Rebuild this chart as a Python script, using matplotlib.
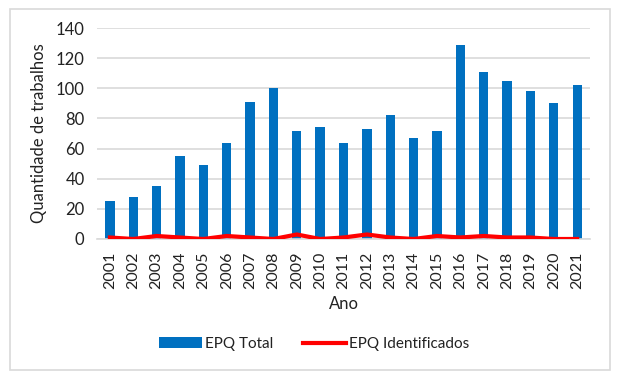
import matplotlib
matplotlib.use("Agg")
import matplotlib.pyplot as plt
from matplotlib.patches import Rectangle

plt.rcParams['font.family'] = ['Lato', 'DejaVu Sans']

anos = ['2001', '2002', '2003', '2004', '2005', '2006', '2007', '2008', '2009', '2010', '2011',
        '2012', '2013', '2014', '2015', '2016', '2017', '2018', '2019', '2020', '2021']
epq_total = [25, 28, 35, 55, 49, 64, 91, 100, 72, 74, 64,
             73, 82, 67, 72, 129, 111, 105, 98, 90, 102]
epq_ident = [1, 0, 2, 1, 0, 2, 1, 0, 3, 0, 1,
             3, 1, 0, 2, 1, 2, 1, 1, 0, 0]
y_ticks = [0, 20, 40, 60, 80, 100, 120, 140]

fig = plt.figure(figsize=(6.22, 3.79), dpi=100)
ax = fig.add_axes([0.156, 0.3694, 0.7926, 0.5566])

# moldura externa do grafico
fig.patches.append(Rectangle((10 / 622, 9 / 379), 600 / 622, 361 / 379,
                             transform=fig.transFigure, fill=False,
                             edgecolor='#d9d9d9', linewidth=1.2))

x = list(range(len(anos)))
barras = ax.bar(x, epq_total, width=0.4, color='#0070C0', label='EPQ Total', zorder=2)
linha, = ax.plot(x, epq_ident, color='#FF0000', linewidth=3, label='EPQ Identificados', zorder=3)

ax.set_xlim(-0.55, len(anos) - 0.45)
ax.set_ylim(0, 140)
ax.set_yticks(y_ticks)
ax.set_xticks(x)
ax.set_xticklabels(anos, rotation=90)
ax.tick_params(axis='both', length=0, labelsize=12, colors='#222222')
ax.tick_params(axis='x', labelsize=11.5, pad=9)
ax.tick_params(axis='y', pad=9)

ax.grid(axis='y', color='#d9d9d9', linewidth=1.2, zorder=0)
ax.set_axisbelow(True)
for s in ['top', 'right', 'left']:
    ax.spines[s].set_visible(False)
ax.spines['bottom'].set_color('#d9d9d9')
ax.spines['bottom'].set_linewidth(1.2)

ax.set_ylabel('Quantidade de trabalhos', fontsize=12, color='#222222', labelpad=6)
ax.set_xlabel('Ano', fontsize=12, color='#222222', labelpad=5)

fig.legend([barras, linha], ['EPQ Total', 'EPQ Identificados'],
           loc='center', bbox_to_anchor=(0.505, 0.092), ncol=2, frameon=False,
           fontsize=11, handlelength=2.8, handletextpad=0.2, columnspacing=2.0,
           labelcolor='#222222')

fig.savefig('out.png', dpi=100)
